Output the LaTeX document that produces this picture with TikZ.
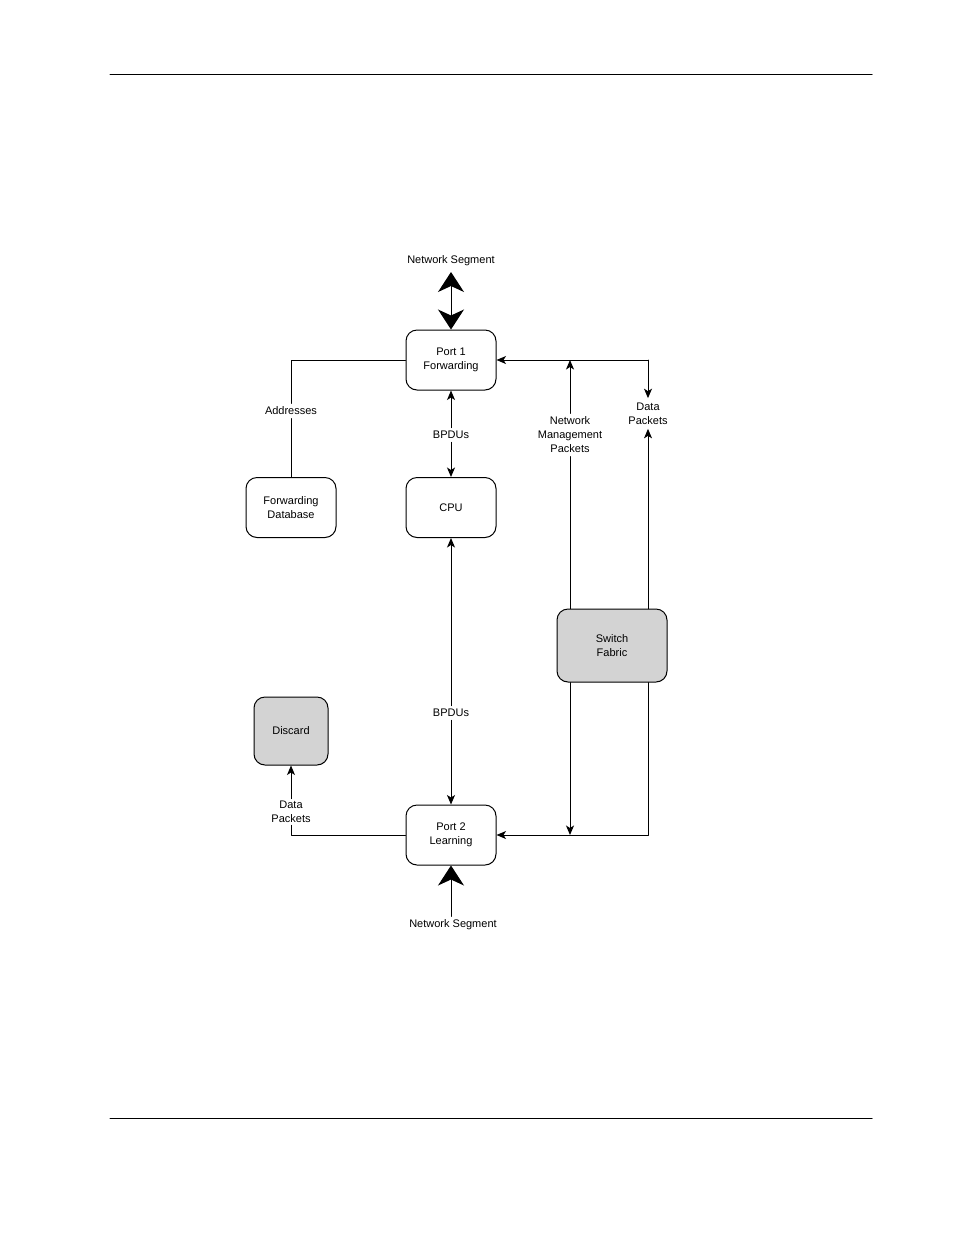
\documentclass[tikz,border=0pt]{standalone}
\usepackage{fontspec}
\setmainfont{Liberation Sans}
\usetikzlibrary{arrows.meta}
\definecolor{boxgray}{RGB}{211,211,211}
\tikzset{
  unit/.style={draw, rounded corners=11pt, minimum width=90pt, minimum height=60pt, align=center, inner sep=0pt},
  grayunit/.style={unit, fill=boxgray},
  lbl/.style={align=center, inner sep=3pt},
  bigtip/.style={-{Stealth[length=20pt,width=26pt,inset=6pt]}},
  bigtips/.style={{Stealth[length=20pt,width=26pt,inset=6pt]}-{Stealth[length=20pt,width=26pt,inset=6pt]}}
}
\begin{document}
\begin{tikzpicture}[line cap=round,line join=round,>={Stealth[length=9.5pt,width=8pt,inset=2.5pt]},x=1pt,y=-1pt,font=\fontsize{11}{14}\selectfont,line width=1pt]
			\useasboundingbox (0,0) rectangle (954,1235);
			\draw (110,74) -- (872,74);
			\draw (110,1118) -- (872,1118);
			\node[unit] (port1) at (451,360) {Port 1\\Forwarding};
			\node[unit] (fdb) at (291,507.5) {Forwarding\\ Database};
			\node[unit] (cpu) at (451,507.5) {CPU};
			\node[grayunit, minimum width=110pt, minimum height=73pt] (fabric) at (612,645.5) {Switch\\ Fabric};
			\node[grayunit, minimum width=74pt, minimum height=68pt] (discard) at (291,731) {Discard};
			\node[unit] (port2) at (451,835) {Port 2\\Learning};
			\node[lbl] (seg1) at (451,261) {Network Segment};
			\node[lbl] (seg2) at (453,925) {Network Segment};
			\node[lbl] (addr) at (291,411) {Addresses};
			\node[lbl] (bpdu1) at (451,435) {BPDUs};
			\node[lbl] (bpdu2) at (451,713) {BPDUs};
			\node[lbl] (nmp) at (570,435) {Network\\Management\\ Packets};
			\node[lbl, inner sep=4pt] (dp1) at (648,413.5) {Data\\Packets};
			\node[lbl, inner sep=2pt] (dp2) at (291,812) {Data\\Packets};
			\coordinate (j0) at (291,360);
			\coordinate (j1) at (570,360);
			\coordinate (j2) at (648,360);
			\coordinate (j3) at (570,835);
			\coordinate (j4) at (648,835);
			\coordinate (j5) at (291,835);
			\coordinate (t1) at (451,272);
			\draw[bigtips] (t1) -- (port1.north);
			\draw[bigtip] (port2.south |- seg2.north) -- (port2.south);
			\draw (fdb.north) -- (addr.south);
			\draw (addr.north) -- (j0) -- (port1.west);
			\draw[->] (bpdu1.north) -- (port1.south);
			\draw[->] (bpdu1.south) -- (cpu.north);
			\draw[->] (bpdu2.north) -- (cpu.south);
			\draw[->] (bpdu2.south) -- (port2.north);
			\draw (nmp.south |- fabric.north) -- (nmp.south);
			\draw[->] (nmp.north) -- (j1);
			\draw[->] (j2) -- (port1.east);
			\draw[->] (j2) -- (dp1.north);
			\draw[->] (dp1.south |- fabric.north) -- (dp1.south);
			\draw[->] (j1 |- fabric.south) -- (j3);
			\draw[->] (j2 |- fabric.south) -- (j4) -- (port2.east);
			\draw (port2.west) -- (j5) -- (dp2.south);
			\draw[->] (dp2.north) -- (discard.south);
\end{tikzpicture}
\end{document}
